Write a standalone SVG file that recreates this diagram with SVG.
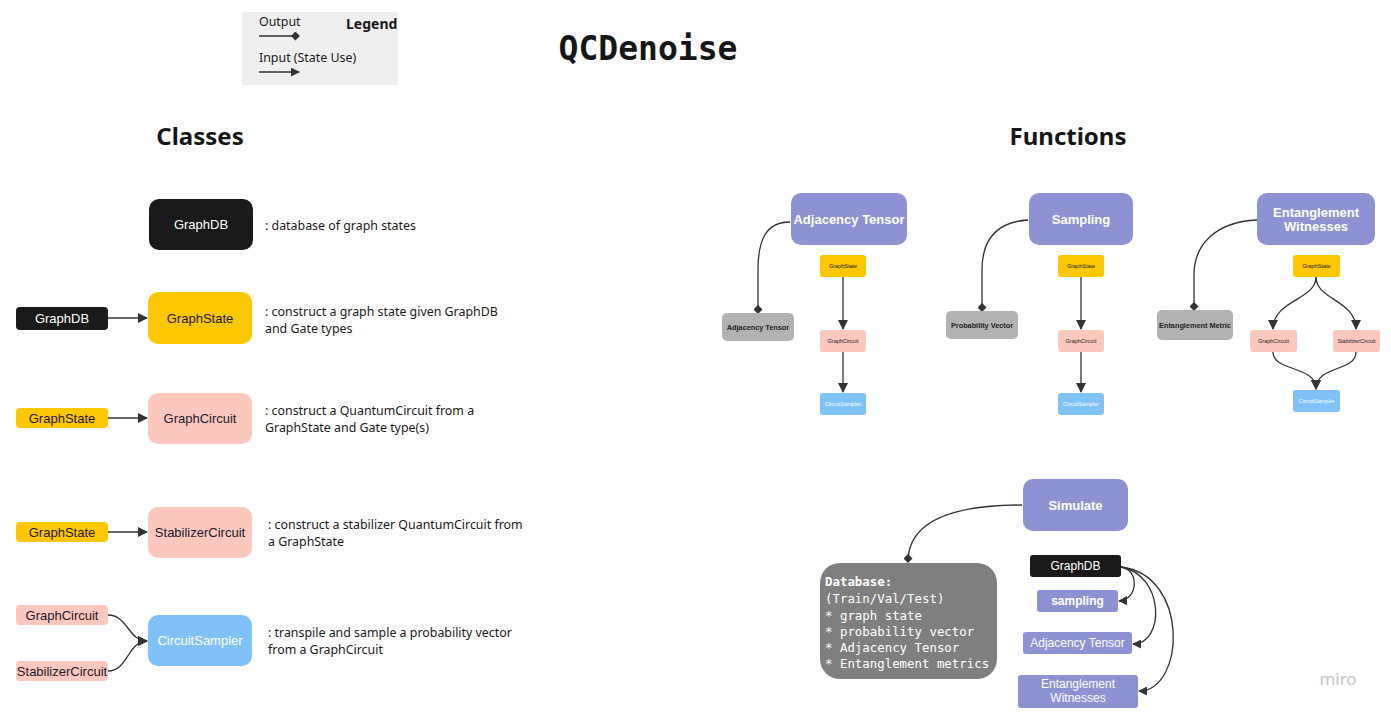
<svg xmlns="http://www.w3.org/2000/svg" width="1391" height="718" viewBox="0 0 1391 718">
<defs>
<marker id="arr" viewBox="0 0 10 10" refX="9" refY="5" markerWidth="10" markerHeight="10" markerUnits="userSpaceOnUse" orient="auto"><path d="M0,0 L10,5 L0,10 z" fill="#333"/></marker>
<marker id="arrS" viewBox="0 0 10 10" refX="9" refY="5" markerWidth="9" markerHeight="9" markerUnits="userSpaceOnUse" orient="auto"><path d="M0,0 L10,5 L0,10 z" fill="#333"/></marker>
<marker id="dia" viewBox="0 0 10 10" refX="9" refY="5" markerWidth="9" markerHeight="9" markerUnits="userSpaceOnUse" orient="auto"><path d="M0,5 L5,0 L10,5 L5,10 z" fill="#333"/></marker>
</defs>
<style>
.lbl{font-family:"Liberation Sans",Arial,sans-serif;text-anchor:middle;dominant-baseline:central}
.desc{font-family:"Noto Sans","Open Sans",sans-serif;font-size:12.4px;fill:#1a1a1a}
.conn{fill:none;stroke:#333;stroke-width:1.3}
.dark{fill:#1a1a1a}
.yel{fill:#ffc700}
.pink{fill:#fcc7bc}
.blue{fill:#80c2f8}
.peri{fill:#8d93d2}
.gray{fill:#b2b2b2}
.w{fill:#ffffff}
.k{fill:#1a1a2e}
.mono{font-family:"DejaVu Sans Mono","Liberation Mono",monospace}
</style>
<rect width="1391" height="718" fill="#ffffff"/>

<g id="legend">
<rect x="242" y="12" width="156" height="73" fill="#efefef"/>
<text x="259" y="26" class="desc" font-size="12">Output</text>
<text x="346" y="29" font-family="Noto Sans,sans-serif" font-weight="bold" font-size="14" fill="#1a1a1a">Legend</text>
<line x1="259" y1="36" x2="299" y2="36" class="conn" marker-end="url(#dia)"/>
<text x="259" y="62" class="desc" font-size="12">Input (State Use)</text>
<line x1="259" y1="72" x2="299" y2="72" class="conn" marker-end="url(#arrS)"/>
</g>

<g id="titles">
<text x="648" y="60" class="mono" font-weight="bold" font-size="33" text-anchor="middle" fill="#161616">QCDenoise</text>
<text x="200" y="145" font-family="Noto Sans,sans-serif" font-weight="bold" font-size="24" text-anchor="middle" fill="#161616">Classes</text>
<text x="1068" y="145" font-family="Noto Sans,sans-serif" font-weight="bold" font-size="24" text-anchor="middle" fill="#161616">Functions</text>
</g>

<g id="connectors">
<line x1="108" y1="318" x2="147" y2="318" class="conn" marker-end="url(#arr)"/>
<line x1="108" y1="418" x2="147" y2="418" class="conn" marker-end="url(#arr)"/>
<line x1="108" y1="532" x2="147" y2="532" class="conn" marker-end="url(#arr)"/>
<path d="M108,615 C128,615 128,641 147,641" class="conn" marker-end="url(#arr)"/>
<path d="M108,671 C128,671 128,641 147,641" class="conn" marker-end="url(#arr)"/>

<path d="M790,222 C766,222 758,240 758,270 L758,313" class="conn" marker-end="url(#dia)"/>
<line x1="843" y1="277" x2="843" y2="329" class="conn" marker-end="url(#arr)"/>
<line x1="843" y1="352" x2="843" y2="392" class="conn" marker-end="url(#arr)"/>

<path d="M1028,220 C996,222 982,240 982,270 L982,311" class="conn" marker-end="url(#dia)"/>
<line x1="1081" y1="277" x2="1081" y2="329" class="conn" marker-end="url(#arr)"/>
<line x1="1081" y1="352" x2="1081" y2="392" class="conn" marker-end="url(#arr)"/>

<path d="M1257,220 C1215,222 1194,245 1194,275 L1194,310" class="conn" marker-end="url(#dia)"/>
<path d="M1316,277 C1316,300 1273,300 1273,329" class="conn" marker-end="url(#arr)"/>
<path d="M1316,277 C1316,300 1356,300 1356,329" class="conn" marker-end="url(#arr)"/>
<path d="M1273,352 C1273,372 1316,365 1316,389" class="conn" marker-end="url(#arr)"/>
<path d="M1356,352 C1356,372 1316,365 1316,389" class="conn" marker-end="url(#arr)"/>

<path d="M1022,505 C955,505 908,520 908,562" class="conn" marker-end="url(#dia)"/>
<path d="M1121,567 C1140,570 1138,600 1119,601" class="conn" marker-end="url(#arrS)"/>
<path d="M1121,567 C1165,575 1165,644 1133,644" class="conn" marker-end="url(#arrS)"/>
<path d="M1121,567 C1190,575 1185,691 1139,691" class="conn" marker-end="url(#arrS)"/>
</g>

<g id="class-graphdb">
<rect x="149" y="199" width="104" height="51" rx="10" class="dark"/>
<text x="201" y="224.5" class="lbl w" font-size="13">GraphDB</text>
<text x="265" y="230" class="desc">: database of graph states</text>
</g>

<g id="class-graphstate">
<rect x="16" y="307" width="92" height="23" rx="4" class="dark"/>
<text x="62" y="318.5" class="lbl w" font-size="13">GraphDB</text>
<rect x="148" y="292" width="104" height="52" rx="10" class="yel"/>
<text x="200" y="318" class="lbl k" font-size="13">GraphState</text>
<text x="265" y="316" class="desc">: construct a graph state given GraphDB</text>
<text x="265" y="333" class="desc">and Gate types</text>
</g>

<g id="class-graphcircuit">
<rect x="16" y="408" width="92" height="20" rx="4" class="yel"/>
<text x="62" y="418" class="lbl k" font-size="13">GraphState</text>
<rect x="148" y="393" width="104" height="51" rx="10" class="pink"/>
<text x="200" y="418.5" class="lbl k" font-size="13">GraphCircuit</text>
<text x="265" y="415" class="desc">: construct a QuantumCircuit from a</text>
<text x="265" y="432" class="desc">GraphState and Gate type(s)</text>
</g>

<g id="class-stabilizercircuit">
<rect x="16" y="522" width="92" height="20" rx="4" class="yel"/>
<text x="62" y="532" class="lbl k" font-size="13">GraphState</text>
<rect x="148" y="507" width="104" height="51" rx="10" class="pink"/>
<text x="200" y="532.5" class="lbl k" font-size="13">StabilizerCircuit</text>
<text x="268" y="529" class="desc">: construct a stabilizer QuantumCircuit from</text>
<text x="268" y="546" class="desc">a GraphState</text>
</g>

<g id="class-circuitsampler">
<rect x="16" y="605" width="92" height="20" rx="4" class="pink"/>
<text x="62" y="615" class="lbl k" font-size="13">GraphCircuit</text>
<rect x="16" y="661" width="92" height="20" rx="4" class="pink"/>
<text x="62" y="671" class="lbl k" font-size="13">StabilizerCircuit</text>
<rect x="148" y="615" width="104" height="51" rx="10" class="blue"/>
<text x="200" y="640.5" class="lbl w" font-size="13">CircuitSampler</text>
<text x="268" y="637" class="desc">: transpile and sample a probability vector</text>
<text x="268" y="654" class="desc">from a GraphCircuit</text>
</g>

<g id="fn-adjacency">
<rect x="791" y="193" width="116" height="52" rx="10" class="peri"/>
<text x="849" y="219" class="lbl w" font-size="13" font-weight="bold">Adjacency Tensor</text>
<rect x="722" y="313" width="72" height="28" rx="5" class="gray"/>
<text x="758" y="327" class="lbl" font-size="7.3" font-weight="bold" fill="#222">Adjacency Tensor</text>
<rect x="820" y="255" width="46" height="22" rx="3" class="yel"/>
<text x="843" y="266" class="lbl k" font-size="5.5">GraphState</text>
<rect x="820" y="330" width="46" height="22" rx="3" class="pink"/>
<text x="843" y="341" class="lbl k" font-size="5.5">GraphCircuit</text>
<rect x="820" y="393" width="46" height="22" rx="3" class="blue"/>
<text x="843" y="404" class="lbl w" font-size="5.5">CircuitSampler</text>
</g>

<g id="fn-sampling">
<rect x="1029" y="193" width="104" height="52" rx="10" class="peri"/>
<text x="1081" y="219" class="lbl w" font-size="13" font-weight="bold">Sampling</text>
<rect x="946" y="311" width="72" height="28" rx="5" class="gray"/>
<text x="982" y="325" class="lbl" font-size="7.3" font-weight="bold" fill="#222">Probability Vector</text>
<rect x="1058" y="255" width="46" height="22" rx="3" class="yel"/>
<text x="1081" y="266" class="lbl k" font-size="5.5">GraphState</text>
<rect x="1058" y="330" width="46" height="22" rx="3" class="pink"/>
<text x="1081" y="341" class="lbl k" font-size="5.5">GraphCircuit</text>
<rect x="1058" y="393" width="46" height="22" rx="3" class="blue"/>
<text x="1081" y="404" class="lbl w" font-size="5.5">CircuitSampler</text>
</g>

<g id="fn-entanglement">
<rect x="1257" y="193" width="118" height="52" rx="10" class="peri"/>
<text x="1316" y="212" class="lbl w" font-size="13" font-weight="bold">Entanglement</text>
<text x="1316" y="226" class="lbl w" font-size="13" font-weight="bold">Witnesses</text>
<rect x="1157" y="310" width="76" height="30" rx="5" class="gray"/>
<text x="1195" y="325" class="lbl" font-size="7.3" font-weight="bold" fill="#222">Entanglement Metric</text>
<rect x="1293" y="255" width="47" height="22" rx="3" class="yel"/>
<text x="1316.5" y="266" class="lbl k" font-size="5.5">GraphState</text>
<rect x="1250" y="330" width="47" height="22" rx="3" class="pink"/>
<text x="1273.5" y="341" class="lbl k" font-size="5.5">GraphCircuit</text>
<rect x="1333" y="330" width="47" height="22" rx="3" class="pink"/>
<text x="1356.5" y="341" class="lbl k" font-size="5.5">StabilizerCircuit</text>
<rect x="1293" y="390" width="47" height="22" rx="3" class="blue"/>
<text x="1316.5" y="401" class="lbl w" font-size="5.5">CircuitSampler</text>
</g>

<g id="fn-simulate">
<rect x="1023" y="479" width="105" height="52" rx="10" class="peri"/>
<text x="1075.5" y="505" class="lbl w" font-size="13" font-weight="bold">Simulate</text>
</g>

<g id="database">
<rect x="820" y="563" width="177" height="116" rx="20" fill="#7f7f7f"/>
<g class="mono" font-size="12.4" fill="#ffffff">
<text x="825" y="586" font-weight="bold">Database:</text>
<text x="825" y="603">(Train/Val/Test)</text>
<text x="825" y="620">* graph state</text>
<text x="825" y="636">* probability vector</text>
<text x="825" y="652">* Adjacency Tensor</text>
<text x="825" y="668">* Entanglement metrics</text>
</g>
</g>

<g id="sim-graphdb">
<rect x="1030" y="555" width="91" height="22" rx="3" class="dark"/>
<text x="1075.5" y="566" class="lbl w" font-size="12">GraphDB</text>
</g>
<g id="sim-sampling">
<rect x="1037" y="590" width="81" height="22" rx="3" class="peri"/>
<text x="1077.5" y="601" class="lbl w" font-size="12" font-weight="bold">sampling</text>
</g>
<g id="sim-adjacency">
<rect x="1023" y="632" width="109" height="22" rx="3" class="peri"/>
<text x="1077.5" y="643" class="lbl w" font-size="12">Adjacency Tensor</text>
</g>
<g id="sim-entanglement">
<rect x="1018" y="675" width="120" height="33" rx="3" class="peri"/>
<text x="1078" y="684" class="lbl w" font-size="12">Entanglement</text>
<text x="1078" y="698" class="lbl w" font-size="12">Witnesses</text>
</g>

<g id="watermark">
<text x="1338" y="685" font-family="Noto Sans,sans-serif" font-size="17" text-anchor="middle" fill="#c4c4cc">miro</text>
</g>
</svg>
